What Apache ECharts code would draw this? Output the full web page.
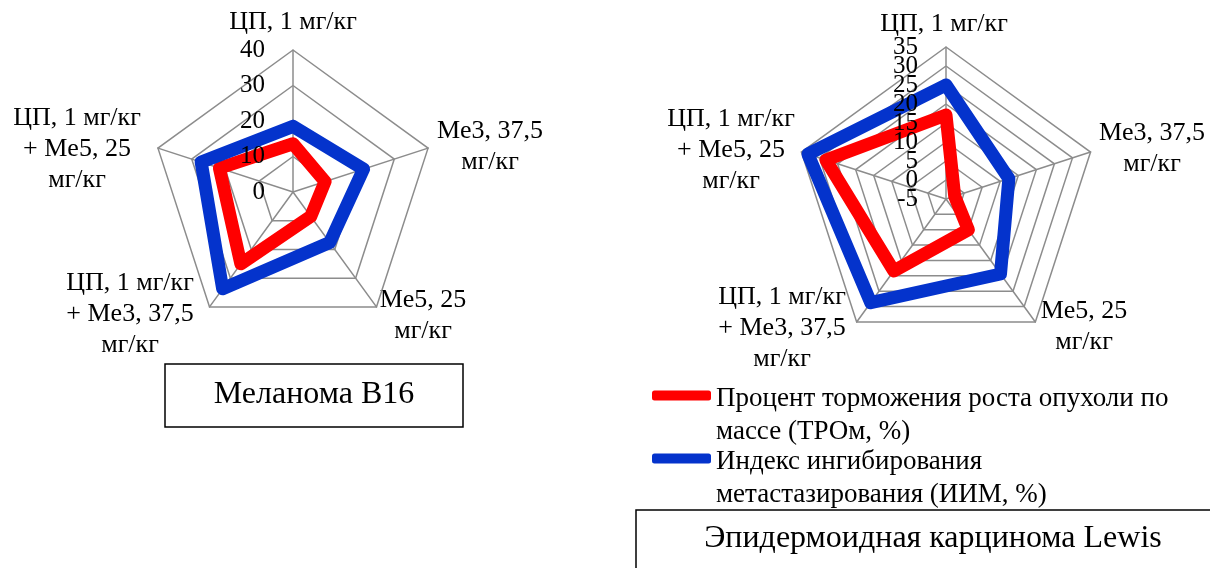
<!DOCTYPE html>
<html>
<head>
<meta charset="utf-8">
<script src="https://cdn.jsdelivr.net/npm/echarts@6/dist/echarts.min.js"></script>
<style>
html,body{margin:0;padding:0;background:#fff;}
#chart{width:1210px;height:568px;}
</style>
</head>
<body>
<div id="chart"></div>
<script>
// Categories in ECharts radar order (top, then counter-clockwise)
var categories = ['ЦП, 1 мг/кг', 'ЦП, 1 мг/кг\n+ Me5, 25\nмг/кг', 'ЦП, 1 мг/кг\n+ Me3, 37,5\nмг/кг', 'Me5, 25\nмг/кг', 'Me3, 37,5\nмг/кг'];
var seriesNames = ['Процент торможения роста опухоли по\nмассе (ТРОм, %)', 'Индекс ингибирования\nметастазирования (ИИМ, %)'];
// Melanoma B16
var melanomaTRO = [13.6, 21.8, 25.0, 8.5, 9.5];
var melanomaIIM = [18.5, 27.2, 33.7, 17.6, 20.9];
// Lewis carcinoma
var lewisTRO = [17.1, 28.2, 18.4, 5.0, -2.6];
var lewisIIM = [25.0, 33.2, 28.7, 19.4, 12.4];
var titles = ['Меланома В16', 'Эпидермоидная карцинома Lewis'];
// value axis ranges: melanoma 0..40 step 10, Lewis -5..35 step 5
var axisRanges = [{min: 0, max: 40, split: 4}, {min: -5, max: 35, split: 8}];

var FONT = 'Liberation Serif';
var FS = 26;
var GRID = '#8c8c8c';
var RED = '#ff0000';
var BLUE = '#0433cc';

function indicators(min, max, withLabel) {
  return categories.map(function (c, i) {
    var o = {name: c, min: min, max: max};
    if (withLabel && i === 0) o.axisLabel = {show: true};
    return o;
  });
}
// grid radar (below series)
function gridRadar(center, radius, r) {
  return {
    center: center, radius: radius, startAngle: 90, splitNumber: r.split, shape: 'polygon', z: 0,
    indicator: indicators(r.min, r.max, false),
    axisName: {show: false},
    axisLine: {show: true, lineStyle: {color: GRID, width: 1.5}},
    splitLine: {show: true, lineStyle: {color: GRID, width: 1.5}},
    splitArea: {show: false}, axisTick: {show: false}, axisLabel: {show: false}
  };
}
// label-only radar (drawn above series, as in the original)
function labelRadar(center, radius, min, max, split) {
  return {
    center: center, radius: radius, startAngle: 90, splitNumber: split, shape: 'polygon', z: 10,
    indicator: indicators(min, max, true),
    axisName: {show: false},
    axisLine: {show: false}, splitLine: {show: false}, splitArea: {show: false}, axisTick: {show: false},
    axisLabel: {show: false, color: '#000', fontFamily: FONT, fontSize: 25, margin: 28,
                showMinLabel: true, showMaxLabel: true}
  };
}
var LC = [293, 192], LR = 142, RC = [946, 199], RR = 152;
var rStep = RR / axisRanges[1].split;

// Category label placements [left radar, right radar]: [x, y of first line]
var labelPos = [
  [[293, 22], [77, 118], [130, 283], [423, 300], [490, 131]],
  [[944, 24], [731, 119], [782, 297], [1084, 311], [1152, 133]]
];
var LH = 31;
var graphics = [];
labelPos.forEach(function (set) {
  set.forEach(function (p, i) {
    var n = categories[i].split('\n').length;
    graphics.push({type: 'text', x: p[0], y: p[1] + (n - 1) * LH / 2,
      style: {text: categories[i], fontFamily: FONT, fontSize: FS, fill: '#000', align: 'center', verticalAlign: 'middle', lineHeight: LH}});
  });
});
graphics.push({type: 'rect', shape: {x: 165, y: 364, width: 298, height: 63}, style: {fill: '#fff', stroke: '#000', lineWidth: 1.5}});
graphics.push({type: 'text', x: 314, y: 395, style: {text: titles[0], fontFamily: FONT, fontSize: 32, fill: '#000', align: 'center', verticalAlign: 'middle'}});
graphics.push({type: 'rect', shape: {x: 636, y: 510, width: 600, height: 80}, style: {fill: '#fff', stroke: '#000', lineWidth: 1.5}});
graphics.push({type: 'text', x: 933, y: 539, style: {text: titles[1], fontFamily: FONT, fontSize: 32, fill: '#000', align: 'center', verticalAlign: 'middle'}});

var chart = echarts.init(document.getElementById('chart'), null, {renderer: 'canvas'});
var lineOpt = function (color) { return {color: color, width: 13, join: 'round', cap: 'round'}; };
chart.setOption({
  backgroundColor: '#fff',
  animation: false,
  textStyle: {fontFamily: FONT},
  legend: {
    orient: 'vertical', left: 647, top: 338,
    itemWidth: 59, itemHeight: 10, itemGap: -42,
    icon: 'roundRect',
    data: seriesNames,
    // leading spacer line so the icon sits beside the first text line
    formatter: function (name) { return '{s| }\n' + name; },
    textStyle: {fontFamily: FONT, fontSize: 27, color: '#000', lineHeight: 33,
                rich: {s: {lineHeight: 39, fontSize: 27}}}
  },
  radar: [
    gridRadar(LC, LR, axisRanges[0]),
    gridRadar(RC, RR, axisRanges[1]),
    labelRadar(LC, LR, axisRanges[0].min, axisRanges[0].max, 4),
    // Lewis tick labels split over two label radars so crowded labels are all kept
    labelRadar(RC, RR, axisRanges[1].min, axisRanges[1].max, 4),
    labelRadar([RC[0], RC[1] - rStep], RR - 2 * rStep, axisRanges[1].min + 5, axisRanges[1].max - 5, 3)
  ],
  graphic: graphics,
  series: [
    {type: 'radar', radarIndex: 0, symbol: 'none', z: 3,
     data: [
       {name: seriesNames[0], value: melanomaTRO, lineStyle: lineOpt(RED), itemStyle: {color: RED}},
       {name: seriesNames[1], value: melanomaIIM, lineStyle: lineOpt(BLUE), itemStyle: {color: BLUE}}
     ]},
    {type: 'radar', radarIndex: 1, symbol: 'none', z: 3,
     data: [
       {name: seriesNames[0], value: lewisTRO, lineStyle: lineOpt(RED), itemStyle: {color: RED}},
       {name: seriesNames[1], value: lewisIIM, lineStyle: lineOpt(BLUE), itemStyle: {color: BLUE}}
     ]}
  ]
});
</script>
</body>
</html>
